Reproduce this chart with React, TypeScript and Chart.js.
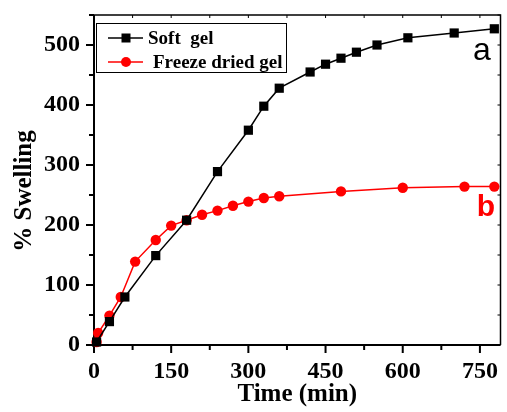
import React, { useEffect, useRef } from "react";
import { Chart, registerables } from "chart.js";

Chart.register(...registerables);

const softTime = [5, 30, 60, 120, 180, 240, 300, 330, 360, 420, 450, 480, 510, 550, 610, 700, 778];
const softSwelling = [5, 39, 80, 149, 208, 289, 358, 398, 428, 455, 468, 478, 488, 500, 512, 520, 527];
const freezeTime = [5, 8, 30, 52, 80, 120, 150, 180, 210, 240, 270, 300, 330, 360, 480, 600, 720, 778];
const freezeSwelling = [5, 20, 49, 80, 139, 175, 199, 208, 217, 224, 232, 239, 245, 248, 256, 262, 264, 264];

const xMajorTicks = [0, 150, 300, 450, 600, 750];
const xMinorTicks = [75, 225, 375, 525, 675];
const yMajorTicks = [0, 100, 200, 300, 400, 500];
const yMinorTicks = [50, 150, 250, 350, 450, 550];

const seriesNames = ["Soft  gel", "Freeze dried gel"];
const xTitle = "Time (min)";
const yTitle = "% Swelling";

const SERIF = "'Liberation Serif', 'Times New Roman', serif";
const SANS = "'Liberation Sans', Arial, sans-serif";

const framePlugin = {
  id: "frame",
  beforeDatasetsDraw(chart: any) {
    const { ctx, chartArea, scales } = chart;
    const { left, right, top, bottom } = chartArea;
    const x = scales.x;
    const y = scales.y;
    ctx.save();
    ctx.strokeStyle = "#000";
    ctx.lineCap = "butt";
    ctx.lineWidth = 1.5;
    ctx.beginPath();
    ctx.moveTo(left, top);
    ctx.lineTo(right, top);
    ctx.lineTo(right, bottom);
    ctx.stroke();
    ctx.lineWidth = 2;
    ctx.beginPath();
    ctx.moveTo(left, top);
    ctx.lineTo(left, bottom + 1);
    ctx.moveTo(left - 1, bottom);
    ctx.lineTo(right, bottom);
    ctx.stroke();
    ctx.beginPath();
    xMajorTicks.forEach((v) => {
      const px = x.getPixelForValue(v);
      ctx.moveTo(px, bottom);
      ctx.lineTo(px, bottom + 8);
    });
    xMinorTicks.forEach((v) => {
      const px = x.getPixelForValue(v);
      ctx.moveTo(px, bottom);
      ctx.lineTo(px, bottom + 5);
    });
    yMajorTicks.forEach((v) => {
      const py = y.getPixelForValue(v);
      ctx.moveTo(left, py);
      ctx.lineTo(left - 8, py);
    });
    yMinorTicks.forEach((v) => {
      const py = y.getPixelForValue(v);
      ctx.moveTo(left, py);
      ctx.lineTo(left - 5, py);
    });
    ctx.stroke();
    ctx.lineWidth = 1;
    ctx.beginPath();
    [...xMajorTicks, ...xMinorTicks].forEach((v) => {
      const px = x.getPixelForValue(v);
      ctx.moveTo(px, top);
      ctx.lineTo(px, top + 3);
    });
    [...yMajorTicks, ...yMinorTicks].forEach((v) => {
      const py = y.getPixelForValue(v);
      ctx.moveTo(right, py);
      ctx.lineTo(right - 3, py);
    });
    ctx.stroke();
    ctx.restore();
  },
  afterDraw(chart: any) {
    const { ctx } = chart;
    ctx.save();
    ctx.fillStyle = "#000";
    ctx.font = `bold 25px ${SERIF}`;
    ctx.textAlign = "center";
    ctx.textBaseline = "middle";
    ctx.translate(25, 191);
    ctx.rotate(-Math.PI / 2);
    ctx.fillText(yTitle, 0, 0);
    ctx.restore();

    ctx.save();
    ctx.strokeStyle = "#000";
    ctx.lineWidth = 1;
    ctx.strokeRect(96.5, 23.5, 190, 49);
    const rows = [
      { y: 38, color: "#000", style: "rect", text: seriesNames[0], tx: 148 },
      { y: 62, color: "#ff0000", style: "circle", text: seriesNames[1], tx: 153 },
    ];
    rows.forEach((r) => {
      ctx.strokeStyle = r.color;
      ctx.lineWidth = 1.5;
      ctx.beginPath();
      ctx.moveTo(108, r.y);
      ctx.lineTo(143, r.y);
      ctx.stroke();
      ctx.fillStyle = r.color;
      if (r.style === "rect") {
        ctx.fillRect(126 - 4.5, r.y - 4.5, 9, 9);
      } else {
        ctx.beginPath();
        ctx.arc(126, r.y, 5, 0, Math.PI * 2);
        ctx.fill();
      }
      ctx.fillStyle = "#000";
      ctx.font = `bold 19px ${SERIF}`;
      ctx.textAlign = "left";
      ctx.textBaseline = "middle";
      ctx.fillText(r.text, r.tx, r.y + 1);
    });
    ctx.textAlign = "center";
    ctx.textBaseline = "middle";
    ctx.fillStyle = "#000";
    ctx.font = `32px ${SANS}`;
    ctx.fillText("a", 482, 51);
    ctx.fillStyle = "#ff0000";
    ctx.font = `bold 30px ${SANS}`;
    ctx.fillText("b", 486, 208);
    ctx.restore();
  },
};

function noPad(scale: any) {
  scale.paddingTop = 0;
  scale.paddingBottom = 0;
  scale.paddingLeft = 0;
  scale.paddingRight = 0;
}

export default function App() {
  const ref = useRef<HTMLCanvasElement | null>(null);

  useEffect(() => {
    if (!ref.current) return;
    const chart = new Chart(ref.current, {
      type: "scatter",
      data: {
        datasets: [
          {
            label: seriesNames[0],
            data: softTime.map((t, i) => ({ x: t, y: softSwelling[i] })),
            showLine: true,
            borderColor: "#000",
            backgroundColor: "#000",
            borderWidth: 1.5,
            pointStyle: "rect",
            pointRadius: 6.5,
            pointBorderWidth: 0,
            clip: false,
          },
          {
            label: seriesNames[1],
            data: freezeTime.map((t, i) => ({ x: t, y: freezeSwelling[i] })),
            showLine: true,
            borderColor: "#ff0000",
            backgroundColor: "#ff0000",
            borderWidth: 1.5,
            pointStyle: "circle",
            pointRadius: 5.2,
            pointBorderWidth: 0,
            clip: false,
          },
        ],
      },
      options: {
        responsive: false,
        animation: false,
        events: [],
        layout: { padding: { top: 15, right: 3, left: 0, bottom: 0 } },
        plugins: {
          legend: { display: false },
          tooltip: { enabled: false },
        },
        scales: {
          x: {
            type: "linear",
            min: 0,
            max: 790,
            afterFit(scale: any) {
              scale.height = 67;
              noPad(scale);
            },
            grid: { display: false, drawTicks: false },
            border: { display: false },
            ticks: {
              stepSize: 150,
              includeBounds: false,
              padding: 12,
              color: "#000",
              font: { family: SERIF, size: 24, weight: "bold" },
              maxRotation: 0,
            },
            title: {
              display: true,
              text: xTitle,
              color: "#000",
              font: { family: SERIF, size: 25, weight: "bold" },
              padding: { top: 2, bottom: 2 },
            },
          },
          y: {
            type: "linear",
            min: 0,
            max: 550,
            afterFit(scale: any) {
              scale.width = 94;
              noPad(scale);
            },
            grid: { display: false, drawTicks: false },
            border: { display: false },
            ticks: {
              stepSize: 100,
              includeBounds: false,
              padding: 14,
              color: "#000",
              font: { family: SERIF, size: 24, weight: "bold" },
            },
            title: { display: false },
          },
        },
      },
      plugins: [framePlugin],
    } as any);
    return () => chart.destroy();
  }, []);

  return (
    <div style={{ position: "absolute", left: 0, top: 0, width: 507, height: 412 }}>
      <canvas ref={ref} width={507} height={412} style={{ display: "block" }} />
    </div>
  );
}
